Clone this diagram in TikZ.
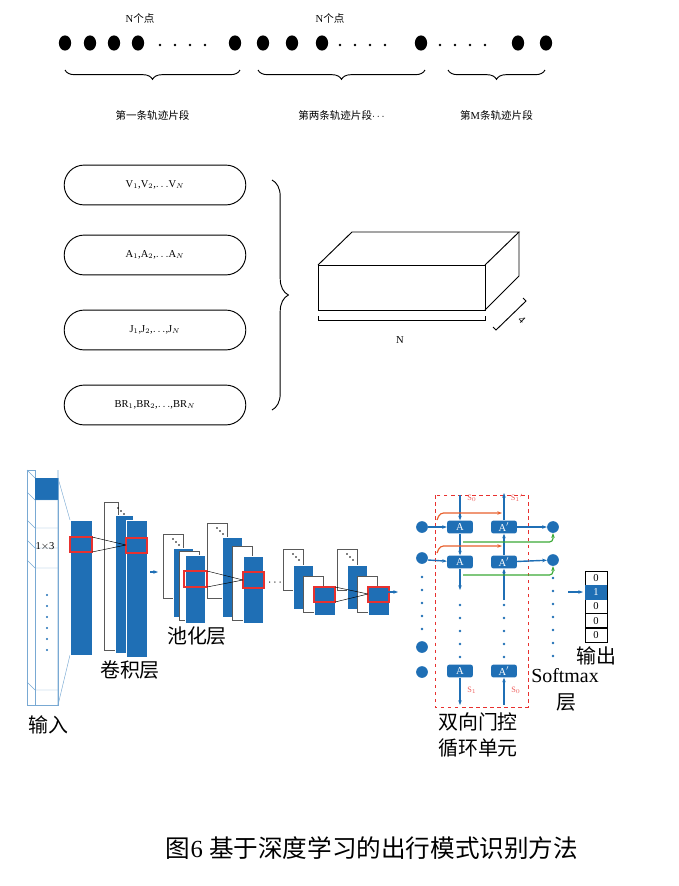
\documentclass[tikz,border=0pt]{standalone}
\usepackage{fontspec}
\setmainfont{Liberation Serif}
\newfontfamily\cjk{Noto Sans CJK SC}
\usetikzlibrary{calc,decorations.pathreplacing,arrows.meta,shapes.geometric}
\definecolor{nnblue}{HTML}{1f6fb5}
\definecolor{nnred}{HTML}{e8312f}
\definecolor{nnorange}{HTML}{e8602c}
\definecolor{nngreen}{HTML}{3aa935}

\begin{document}
\begin{tikzpicture}[x=0.03cm,y=-0.03cm,
    pt/.style={fill=black,ellipse,inner sep=0pt,minimum width=10.5pt,minimum height=13pt},
    feat/.style={draw,thick,rounded corners=17pt,minimum width=155pt,minimum height=34pt,font=\small},
    fmap/.style={fill=nnblue,draw=white,line width=0.6pt},
    wmap/.style={fill=white,draw=gray!70!black,line width=0.5pt},
    rbox/.style={draw=nnred,line width=1pt},
    cell/.style={fill=nnblue,rounded corners=2pt,minimum width=22pt,minimum height=11pt,inner sep=0pt,text=white,font=\small},
    bdot/.style={circle,fill=nnblue,inner sep=0pt,minimum size=10pt},
    barr/.style={-{Stealth[length=4pt]},nnblue,line width=1.2pt},
    lab/.style={font=\cjk\fontsize{17}{17}\selectfont}]
  \useasboundingbox (0,0) rectangle (679,886);
  \coordinate (center) at (0,0);

  % trajectory points
  \foreach \x in {65,90,114,138,235,263,292,322,421,518,546}
    \node[pt] at (\x,43) {};
  \foreach \x in {160,175,190,205,340,355,370,385,440,455,470,485}
    \fill (\x,45) circle (1.2pt);
  \node[font=\small] at (140,18) {N{\cjk 个点}};
  \node[font=\small] at (330,18) {N{\cjk 个点}};
  \foreach \a/\b/\t in {65/240/{\cjk 第一条轨迹片段},258/425/{\cjk 第两条轨迹片段}$\cdots$,448/545/{\cjk 第}M{\cjk 条轨迹片段}}{
    \draw[thick,decorate,decoration={brace,mirror,amplitude=8pt}] (\a,70) -- (\b,70);
    \node[font=\small] at ({(\a+\b)/2},115) {\t};
  }

  % feature sequences
  \node[feat] (vel) at (155,185) {V$_1$,V$_2$,$\ldots$V$_N$};
  \node[feat] (acc) at (155,255) {A$_1$,A$_2$,$\ldots$A$_N$};
  \node[feat] (jerk) at (155,330) {J$_1$,J$_2$,$\ldots$,J$_N$};
  \node[feat] (brate) at (155,405) {BR$_1$,BR$_2$,$\ldots$,BR$_N$};
  \draw[thick,decorate,decoration={brace,amplitude=14pt}] (272,180) -- (272,410);

  % tensor block
  \draw[thick] (318,265) rectangle (485,310);
  \draw[thick] (318,265) -- (352,232) -- (519,232) -- (485,265);
  \draw[thick] (519,232) -- (519,276) -- (485,310);
  \draw[thick] (318,316) -- (318,320) -- (485,320) -- (485,316);
  \node[font=\small] at (400,340) {N};
  \draw[thick] (493,327) -- (496,330) -- (526,301) -- (523,298);
  \node[font=\small,rotate=-45] at (522,320) {4};

  % input column
  \draw[nnblue!60,line width=0.5pt] (27,470) -- (35,478) (58,470) -- (58,705);
  \draw[nnblue!60,line width=0.8pt] (27,470) rectangle (35,705) (35,478) rectangle (58,705);
  \fill[nnblue] (35,478) rectangle (58,500);
  \foreach \y in {500,528,548,568,690}
    \draw[nnblue!60] (27,\y-8) -- (35,\y) -- (58,\y);
  \foreach \y in {595,606,617,628,639,650} \fill[nnblue] (47,\y) circle (1pt);
  \node[font=\small] at (45,546) {1$\times$3};
  \draw[nnblue!60] (58,478) -- (70,520) (58,705) -- (70,655);

  % convolution
  \draw[fmap] (70,520) rectangle (92,655);
  \draw[rbox] (70,537) rectangle (92,552);
  \draw[wmap] (104,502) rectangle (118,650);
  \draw[fmap] (115,515) rectangle (133,653);
  \draw[fmap] (126,520) rectangle (147,657);
  \draw[rbox] (126,538) rectangle (147,553);
  \draw (92,537) -- (126,545) (92,552) -- (126,545);
  \foreach \d in {0,3,6} \fill (118+\d,508+\d) circle (0.8pt);
  \draw[barr] (150,572) -- (158,572);

  % pooling stacks
  \foreach \xa/\ya/\xb/\yb/\xf/\yf/\wf/\hf in {163/534/173/548/185/555/20/68,207/523/222/537/243/556/20/67,283/549/293/565/314/587/21/28,337/549/347/565/368/587/21/28}{
    \draw[wmap] (\xa,\ya) rectangle ++(20,{\yf+\hf-\ya-25});
    \draw[fmap] (\xb,\yb) rectangle ++(20,{\yf+\hf-\yb-6});
    \draw[wmap] ({(\xb+\xf)/2},{(\yb+\yf)/2}) rectangle ++(20,{\yf+\hf-(\yb+\yf)/2-3});
    \draw[fmap] (\xf,\yf) rectangle ++(\wf,\hf);
    \foreach \d in {0,3,6} \fill (\xa+10+\d,\ya+5+\d) circle (0.8pt);
  }
  \draw[rbox] (184,571) rectangle (207,587);
  \draw[rbox] (243,572) rectangle (264,588);
  \draw[rbox] (314,587) rectangle (335,602);
  \draw[rbox] (368,587) rectangle (389,602);
  \draw (207,571) -- (243,580) (207,587) -- (243,580);
  \draw (335,587) -- (368,594) (335,602) -- (368,594);
  \node at (275,583) {$\cdots$};
  \draw[barr] (388,592) -- (398,592);

  \node[lab] at (130,670) {卷积层};
  \node[lab] at (197,636) {池化层};
  \node[lab] at (48,725) {输入};

  % bidirectional GRU
  \draw[nnred,dashed,thick] (435,495) rectangle (528,707);
  \foreach \y in {527,558,647,672} \node[bdot] at (422,\y) {};
  \foreach \y in {577,590,603,616,629} \fill[nnblue] (422,\y) circle (1.2pt);
  \node[cell] (a1) at (460,527) {A};
  \node[cell] (b1) at (504,527) {A$'$};
  \node[cell] (a2) at (460,562) {A};
  \node[cell] (b2) at (504,562) {A$'$};
  \node[cell] (an) at (460,671) {A};
  \node[cell] (bn) at (504,671) {A$'$};
  \node[bdot] (o1) at (553,527) {};
  \node[bdot] (o2) at (553,560) {};
  \foreach \y in {605,618,631,644,657} {
    \fill[nnblue] (460,\y) circle (1.2pt);
    \fill[nnblue] (504,\y) circle (1.2pt);
  }
  \foreach \y in {578,591,604,617,630,643,656} \fill[nnblue] (553,\y) circle (1.2pt);
  \draw[barr] (428,527) -- (a1); \draw[barr] (428,560) -- (a2);
  \draw[barr] (b1) -- (o1); \draw[barr] (b2) -- (o2);
  \draw[barr] (460,495) -- (a1); \draw[barr] (a1) -- (a2); \draw[barr] (a2) -- (460,590);
  \draw[barr] (504,600) -- (b2); \draw[barr] (b2) -- (b1); \draw[barr] (b1) -- (504,493);
  \draw[barr] (an) -- (460,705); \draw[barr] (504,705) -- (bn);
  \foreach \y in {520,553}
    \draw[nnorange,line width=1pt,-{Stealth[length=4pt]},rounded corners=3pt] (437,\y) -- (440,\y-7) -- (502,\y-7);
  \foreach \y/\o in {542/o1,575/o2}
    \draw[nngreen,line width=1pt,-{Stealth[length=4pt]},rounded corners=3pt] (463,\y) -- (553,\y) -- (\o);
  \node[nnred!80,font=\scriptsize] at (472,498) {S$_0$};
  \node[nnred!80,font=\scriptsize] at (517,498) {S$_1$$'$};
  \node[nnred!80,font=\scriptsize] at (472,690) {S$_1$};
  \node[nnred!80,font=\scriptsize] at (516,690) {S$_0$};

  % softmax output
  \draw[barr] (568,592) -- (583,592);
  \foreach \v [count=\i from 0] in {0,1,0,0,0}
    \node[draw,minimum width=19pt,minimum height=12pt,inner sep=0pt,font=\small] (v\i) at (596,{578+\i*14.2}) {\v};
  \fill[nnblue] ($(v1.south west)+(0.3pt,-0.3pt)$) rectangle ($(v1.north east)+(-0.3pt,0.3pt)$);
  \node[white,font=\small] at (v1) {1};
  \node[lab] at (596,656) {输出};
  \node[font=\fontsize{17}{17}\selectfont] at (565,676) {Softmax};
  \node[lab] at (566,702) {层};
  \node[lab] at (478,722) {双向门控};
  \node[lab] at (478,748) {循环单元};

  \node[font=\fontsize{21}{21}\selectfont] at (372,848) {{\cjk 图}6\ {\cjk 基于深度学习的出行模式识别方法}};
\end{tikzpicture}
\end{document}
